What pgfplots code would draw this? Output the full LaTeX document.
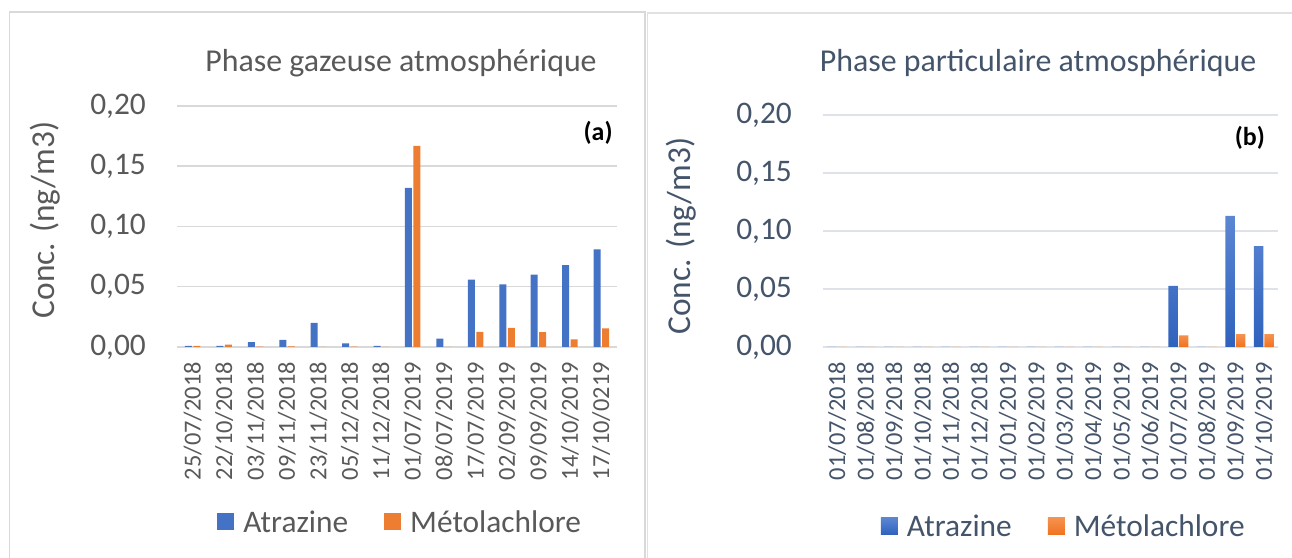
\documentclass[border=0pt]{standalone}
\usepackage{pgfplots}
\pgfplotsset{compat=1.18}
\usepackage{fontspec}
\setmainfont{Carlito}
\definecolor{cblue}{HTML}{4472C4}
\definecolor{corange}{HTML}{ED7D31}
\definecolor{tgray}{HTML}{595959}
\definecolor{tslate}{HTML}{44546A}
\definecolor{gridg}{HTML}{D9D9D9}
\definecolor{gridb}{HTML}{DFE3E9}
\definecolor{bluetop}{HTML}{5B86D2}
\definecolor{bluebot}{HTML}{2F62BD}
\definecolor{orangetop}{HTML}{F5924F}
\definecolor{orangebot}{HTML}{F0731F}
\newcommand\fs[1]{\fontsize{#1}{#1}\selectfont}
\pgfplotsset{
  sq/.style={legend image code/.code={\fill[##1] (0bp,-8.5bp) rectangle (17bp,8.5bp);}},
  common/.style={
    scale only axis, ybar, ymin=0, ymax=0.2,
    ytick={0,0.05,0.1,0.15,0.2},
    scaled y ticks=false,
    axis line style={draw=none}, major tick length=0pt,
    ymajorgrids,
    yticklabel style={/pgf/number format/fixed, /pgf/number format/fixed zerofill, /pgf/number format/precision=2, /pgf/number format/use comma, /pgf/number format/assume math mode=true, anchor=east, inner sep=0pt, font=\fs{31.5}},
    yticklabel shift=31bp,
    xticklabel style={rotate=90, anchor=east, inner sep=0pt, font=\fs{24.5}},
    xticklabel shift=15bp,
    legend columns=2,
    legend style={draw=none, fill=none, font=\fs{31.5}, nodes={inner sep=0pt},
      /tikz/every odd column/.append style={column sep=9bp},
      /tikz/every even column/.append style={column sep=36bp}},
    title style={font=\fs{32}, anchor=center},
    ylabel style={font=\fs{33.5}, anchor=center, rotate=0},
  }
}
\begin{document}
\begin{tikzpicture}[x=1bp,y=1bp]
\useasboundingbox (0,0) rectangle (1292,558);
% panel frames
\draw[gridg, line width=1.2bp] (9.5,-5) -- (9.5,546) -- (645,546) -- (645,-5);
\draw[gridg!80, line width=1.2bp] (647.5,-5) -- (647.5,545) -- (1300,545);
% left
\begin{axis}[common,
  at={(177bp,211bp)}, anchor=south west, width=440bp, height=241bp,
  xmin=-0.5, xmax=13.5, xtick={0,...,13},
  xticklabels={25/07/2018,22/10/2018,03/11/2018,09/11/2018,23/11/2018,05/12/2018,11/12/2018,01/07/2019,08/07/2019,17/07/2019,02/09/2019,09/09/2019,14/10/2019,17/10/0219},
  bar width=7bp, ybar=1.5bp,
  grid style={gridg, line width=1.5bp},
  tick label style={text=tgray},
  ylabel={Conc. (ng/m3)}, ylabel style={text=tgray, at={(axis description cs:-0.3,0.527)}},
  title={Phase gazeuse atmosphérique}, title style={text=tgray, at={(axis description cs:0.509,1.154)}},
  legend style={at={(0.505,-0.726)}, anchor=center, text=tgray},
]
\addplot[fill=cblue, draw=none, sq] coordinates {(0,0.001) (1,0.001) (2,0.004) (3,0.006) (4,0.020) (5,0.003) (6,0.001) (7,0.132) (8,0.007) (9,0.056) (10,0.052) (11,0.060) (12,0.068) (13,0.081)};
\addplot[fill=corange, draw=none, sq] coordinates {(0,0.001) (1,0.002) (2,0.0003) (3,0.0005) (4,0) (5,0.0003) (6,0) (7,0.167) (8,0) (9,0.0125) (10,0.0158) (11,0.0124) (12,0.0064) (13,0.0155)};
\legend{Atrazine, Métolachlore}
\node[font=\fs{26}\bfseries, text=black] at (axis description cs:0.957,0.888) {(a)};
\end{axis}
% right
\begin{axis}[common,
  at={(823bp,211bp)}, anchor=south west, width=455bp, height=232bp,
  xmin=-0.5, xmax=15.5, xtick={0,...,15},
  xticklabels={01/07/2018,01/08/2018,01/09/2018,01/10/2018,01/11/2018,01/12/2018,01/01/2019,01/02/2019,01/03/2019,01/04/2019,01/05/2019,01/06/2019,01/07/2019,01/08/2019,01/09/2019,01/10/2019},
  bar width=9.5bp, ybar=1bp,
  grid style={gridb, line width=1.5bp},
  tick label style={text=tslate},
  ylabel={Conc. (ng/m3)}, ylabel style={text=tslate, at={(axis description cs:-0.312,0.478)}},
  title={Phase particulaire atmosphérique}, title style={text=tslate, at={(axis description cs:0.4725,1.198)}},
  legend style={at={(0.527,-0.772)}, anchor=center, text=tslate},
]
\addplot[top color=bluetop, bottom color=bluebot, draw=none, sq] coordinates {(0,0) (1,0) (2,0) (3,0) (4,0) (5,0) (6,0) (7,0) (8,0) (9,0) (10,0) (11,0) (12,0.0526) (13,0) (14,0.113) (15,0.087)};
\addplot[top color=orangetop, bottom color=orangebot, draw=none, sq] coordinates {(0,0) (1,0) (2,0) (3,0) (4,0) (5,0) (6,0) (7,0) (8,0) (9,0) (10,0) (11,0) (12,0.0101) (13,0) (14,0.011) (15,0.011)};
\legend{Atrazine, Métolachlore}
\node[font=\fs{26}\bfseries, text=black] at (axis description cs:0.938,0.901) {(b)};
\end{axis}
\end{tikzpicture}
\end{document}
